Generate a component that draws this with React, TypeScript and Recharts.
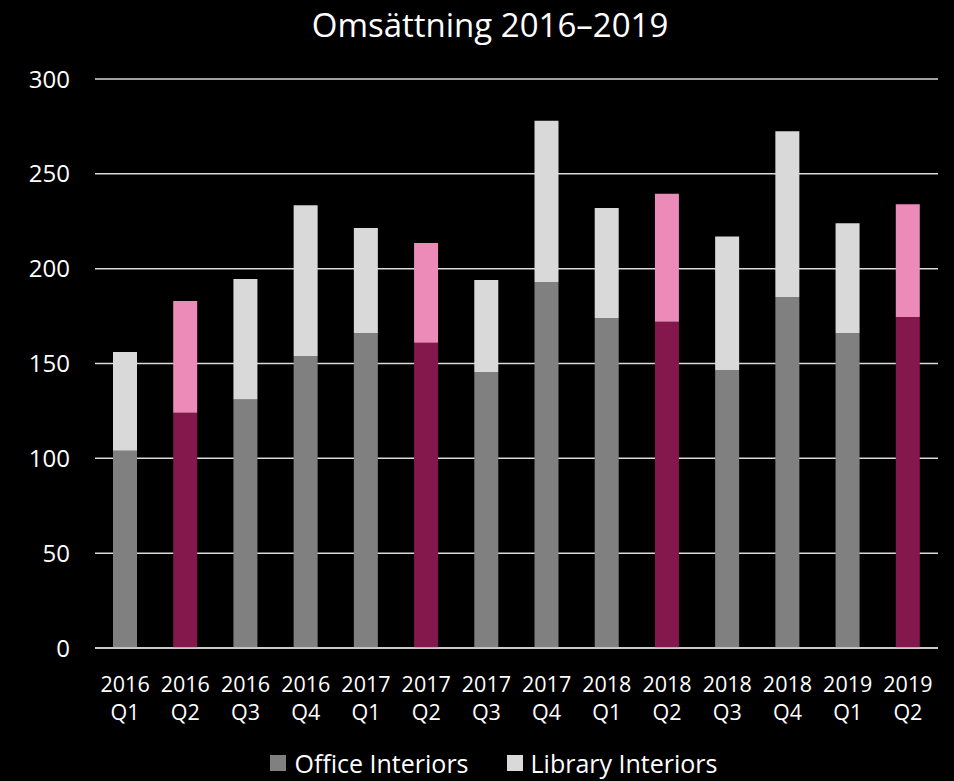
import React from 'react';
import { BarChart, Bar, XAxis, YAxis, CartesianGrid, Legend, Cell } from 'recharts';

const years = ['2016', '2016', '2016', '2016', '2017', '2017', '2017', '2017', '2018', '2018', '2018', '2018', '2019', '2019'];
const quarters = ['Q1', 'Q2', 'Q3', 'Q4', 'Q1', 'Q2', 'Q3', 'Q4', 'Q1', 'Q2', 'Q3', 'Q4', 'Q1', 'Q2'];
const office = [104, 124, 131, 154, 166, 161, 145.5, 193, 174, 172, 146.5, 185, 166, 174.5];
const library = [52, 59, 63.5, 79.5, 55.5, 52.5, 48.5, 85, 58, 67.5, 70.5, 87.5, 58, 59.5];
const yTicks = [0, 50, 100, 150, 200, 250, 300];

const FONT = '"Open Sans", sans-serif';
const OFFICE = '#808080';
const LIBRARY = '#D9D9D9';
const OFFICE_HL = '#84184D';
const LIBRARY_HL = '#EC8AB8';

const data = years.map((y, i) => ({
  name: `${y} ${quarters[i]}`,
  year: y,
  quarter: quarters[i],
  office: office[i],
  library: library[i],
}));

const isHighlight = (i: number) => quarters[i] === 'Q2';

const XTick = (props: any) => {
  const { x, y, payload } = props;
  const d = data[payload.index];
  return (
    <g transform={`translate(${x},${y})`}>
      <text x={0} y={0} dy={36} textAnchor="middle" fill="#fff" fontSize={21.5} fontFamily={FONT}>
        {d.year}
      </text>
      <text x={0} y={0} dy={64} textAnchor="middle" fill="#fff" fontSize={21.5} fontFamily={FONT}>
        {d.quarter}
      </text>
    </g>
  );
};

const LegendContent = () => (
  <div style={{ display: 'flex', justifyContent: 'center', alignItems: 'center', fontFamily: FONT, fontSize: 25, color: '#fff' }}>
    <span style={{ display: 'inline-block', width: 16, height: 16, background: OFFICE, marginRight: 8 }} />
    <span style={{ marginRight: 38 }}>Office Interiors</span>
    <span style={{ display: 'inline-block', width: 16, height: 16, background: LIBRARY, marginRight: 8 }} />
    <span>Library Interiors</span>
  </div>
);

export default function App() {
  return (
    <div style={{ position: 'absolute', left: 0, top: 0, width: 954, height: 781, background: '#000' }}>
      <div
        style={{
          position: 'absolute',
          top: 2,
          left: 0,
          width: 980,
          textAlign: 'center',
          color: '#fff',
          fontFamily: FONT,
          fontSize: 33,
        }}
      >
        Omsättning 2016–2019
      </div>
      <BarChart
        width={954}
        height={781}
        data={data}
        margin={{ top: 79, right: 16, bottom: 0, left: 0 }}
        barSize={24}
      >
        <CartesianGrid vertical={false} stroke="#D9D9D9" strokeWidth={1.5} />
        <XAxis
          dataKey="name"
          interval={0}
          tick={<XTick />}
          tickLine={false}
          axisLine={{ stroke: '#D9D9D9', strokeWidth: 1.5 }}
          height={99}
        />
        <YAxis
          width={95}
          domain={[0, 300]}
          ticks={yTicks}
          tickLine={false}
          axisLine={false}
          tickMargin={19}
          tick={{ fill: '#fff', fontSize: 24, fontFamily: FONT }}
        />
        <Legend content={<LegendContent />} wrapperStyle={{ top: 746, left: 17, width: 954 }} />
        <Bar dataKey="office" stackId="a" isAnimationActive={false}>
          {data.map((_, i) => (
            <Cell key={i} fill={isHighlight(i) ? OFFICE_HL : OFFICE} />
          ))}
        </Bar>
        <Bar dataKey="library" stackId="a" isAnimationActive={false}>
          {data.map((_, i) => (
            <Cell key={i} fill={isHighlight(i) ? LIBRARY_HL : LIBRARY} />
          ))}
        </Bar>
      </BarChart>
    </div>
  );
}
